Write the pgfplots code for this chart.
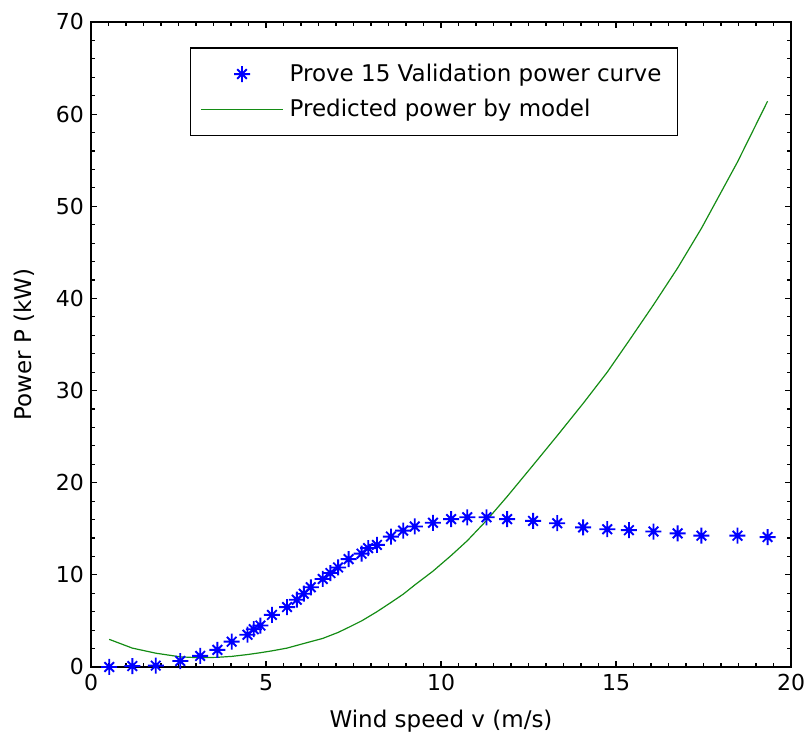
\documentclass[border=0pt]{standalone}
\usepackage{fontspec}
\setmainfont{DejaVu Sans}
\usepackage{pgfplots}
\pgfplotsset{compat=1.18}
\pgfdeclareplotmark{mstar}{%
  \pgfpathmoveto{\pgfqpoint{-\pgfplotmarksize}{0pt}}%
  \pgfpathlineto{\pgfqpoint{\pgfplotmarksize}{0pt}}%
  \pgfpathmoveto{\pgfqpoint{0pt}{-\pgfplotmarksize}}%
  \pgfpathlineto{\pgfqpoint{0pt}{\pgfplotmarksize}}%
  \pgfpathmoveto{\pgfqpoint{-0.6\pgfplotmarksize}{-0.6\pgfplotmarksize}}%
  \pgfpathlineto{\pgfqpoint{0.6\pgfplotmarksize}{0.6\pgfplotmarksize}}%
  \pgfpathmoveto{\pgfqpoint{-0.6\pgfplotmarksize}{0.6\pgfplotmarksize}}%
  \pgfpathlineto{\pgfqpoint{0.6\pgfplotmarksize}{-0.6\pgfplotmarksize}}%
  \pgfusepathqstroke}
\definecolor{mblue}{RGB}{0,0,255}
\definecolor{mgreen}{RGB}{20,140,20}
\pgfplotsset{
  legmark/.style={legend image code/.code={\draw[##1] plot coordinates {(20.5pt,0pt)};}},
  legline/.style={legend image code/.code={\draw[##1] (0pt,0pt) -- (41pt,0pt);}},
}
\begin{document}
\begin{tikzpicture}
\begin{axis}[
  scale only axis,
  width=350pt, height=322.5pt,
  xmin=0, xmax=20, ymin=0, ymax=70,
  xtick={0,5,10,15,20}, ytick={0,10,...,70},
  minor x tick num=9, minor y tick num=4,
  tick align=inside,
  major tick length=3pt, minor tick length=2pt,
  axis line style={line width=0.8pt},
  every tick/.style={black, line width=0.6pt},
  tick label style={font=\fontsize{11}{13}\selectfont},
  /pgf/number format/assume math mode=true,
  xlabel={Wind speed v (m/s)},
  ylabel={Power P (kW)},
  label style={font=\fontsize{11.5}{13}\selectfont},
  xlabel style={yshift=-3pt},
  ylabel style={yshift=4pt},
  legend style={at={(0.141,0.961)}, anchor=north west,
    font=\fontsize{11.5}{13}\selectfont, draw=black, line width=0.7pt,
    inner xsep=5pt, inner ysep=6pt, row sep=3.5pt,
    nodes={inner xsep=3pt}, cells={anchor=west}},
  legend cell align=left,
]
\coordinate (sw) at (rel axis cs:0,0);
\coordinate (ne) at (rel axis cs:1,1);
\addplot[only marks, mark=mstar, mark size=4pt, mblue, mark options={line width=0.95pt}, legmark]
coordinates {
(0.52,0.0) (1.18,0.1) (1.85,0.15) (2.55,0.65) (3.12,1.2) (3.61,1.85)
(4.02,2.75) (4.47,3.5) (4.65,4.1) (4.84,4.5) (5.17,5.65) (5.6,6.5)
(5.88,7.3) (6.08,7.95) (6.28,8.65) (6.62,9.55) (6.84,10.2) (7.06,10.8)
(7.36,11.7) (7.73,12.3) (7.92,12.9) (8.17,13.25) (8.57,14.15) (8.92,14.8)
(9.25,15.25) (9.77,15.65) (10.29,16.05) (10.75,16.25) (11.3,16.25)
(11.89,16.05) (12.63,15.85) (13.32,15.6) (14.06,15.15) (14.75,14.95)
(15.37,14.85) (16.07,14.7) (16.76,14.5) (17.44,14.25) (18.47,14.25)
(19.33,14.1)
};
\addlegendentry{Prove 15 Validation power curve}
\addplot[mgreen, line width=0.6pt, no marks, legline]
coordinates {
(0.52,3.0) (1.18,2.05) (1.85,1.5) (2.55,1.1) (3.12,1.0) (3.61,1.05)
(4.02,1.15) (4.47,1.35) (4.84,1.55) (5.17,1.75) (5.6,2.05) (6.08,2.55)
(6.62,3.1) (7.06,3.75) (7.36,4.3) (7.73,5.0) (8.17,6.0) (8.57,7.0)
(8.92,7.9) (9.25,8.9) (9.77,10.4) (10.29,12.1) (10.75,13.7) (11.3,15.9)
(11.89,18.5) (12.63,21.9) (13.32,25.1) (14.06,28.6) (14.75,32.0)
(15.37,35.4) (16.07,39.3) (16.76,43.3) (17.44,47.6) (18.47,54.8)
(19.33,61.4)
};
\addlegendentry{Predicted power by model}
\end{axis}
\pgfresetboundingbox
\path ([shift={(-45.5pt,-36.5pt)}]sw) rectangle ([shift={(7.5pt,11pt)}]ne);
\end{tikzpicture}
\end{document}
